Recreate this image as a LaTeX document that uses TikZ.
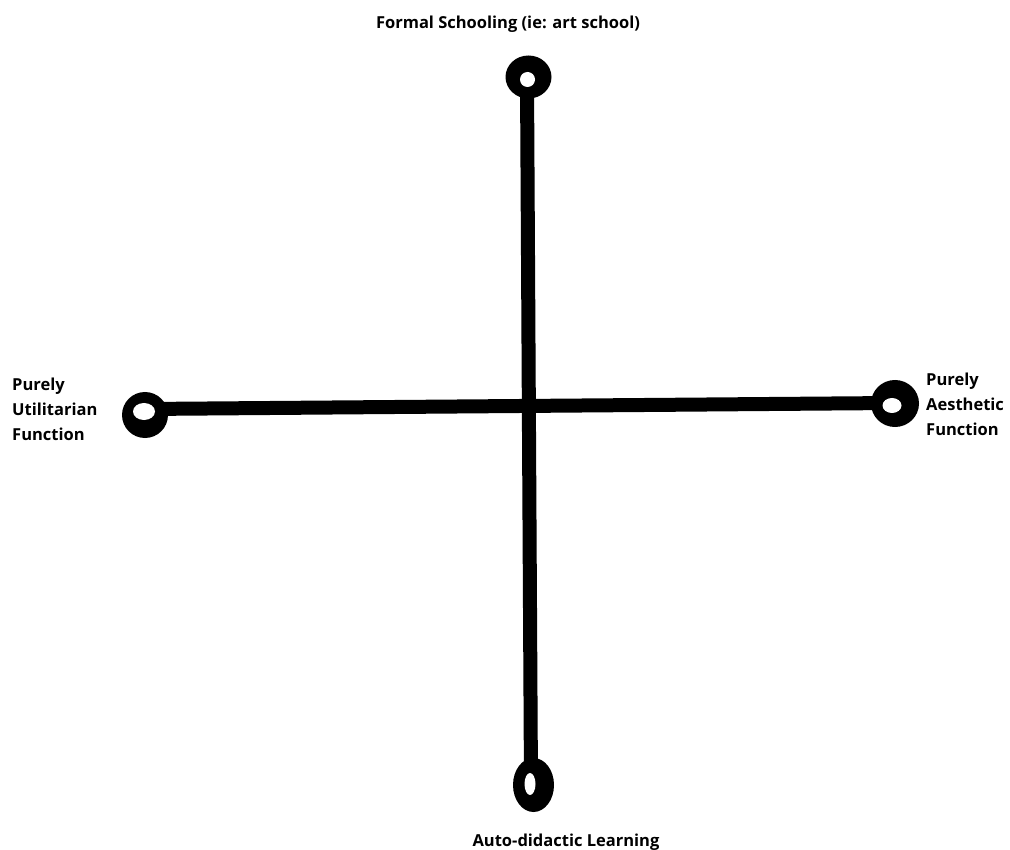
\documentclass[tikz,border=0pt]{standalone}
\usepackage{fontspec}
\setmainfont{Open Sans}
\tikzset{
  axisline/.style={line width=14pt, black},
  lbl/.style={font=\bfseries\fontsize{16.5}{25}\selectfont, inner sep=0pt, align=left},
}
\begin{document}
\begin{tikzpicture}[x=1pt,y=-1pt]
\useasboundingbox (0,0) rectangle (1010,850);
\coordinate (T) at (527,80);
\coordinate (B) at (531,785);
\coordinate (L) at (145,409);
\coordinate (R) at (894,403);
\draw[axisline] (T) -- (B);
\draw[axisline] (L) -- (R);
% end rings
\fill[black] (528.5,77) ellipse [x radius=23, y radius=21.5];
\fill[white] (527.5,79.5) circle [radius=7.5];
\fill[black] (533.5,785) ellipse [x radius=20.5, y radius=27];
\fill[white] (530,784) ellipse [x radius=5.5, y radius=11];
\fill[black] (145,415) circle [radius=23];
\fill[white] (144,411.5) ellipse [x radius=11, y radius=8.5];
\fill[black] (895,403.5) ellipse [x radius=24, y radius=23.5];
\fill[white] (892,405.5) ellipse [x radius=9.5, y radius=7.5];
% labels
\node[lbl, anchor=base] (top) at (508,29) {Formal Schooling (ie: art school)};
\node[lbl, anchor=base] (bot) at (566,846) {Auto-didactic Learning};
\node[lbl, anchor=west] (lt) at (12,409) {Purely\\Utilitarian\\Function};
\node[lbl, anchor=west] (rt) at (926,404) {Purely\\Aesthetic\\Function};
\end{tikzpicture}
\end{document}
